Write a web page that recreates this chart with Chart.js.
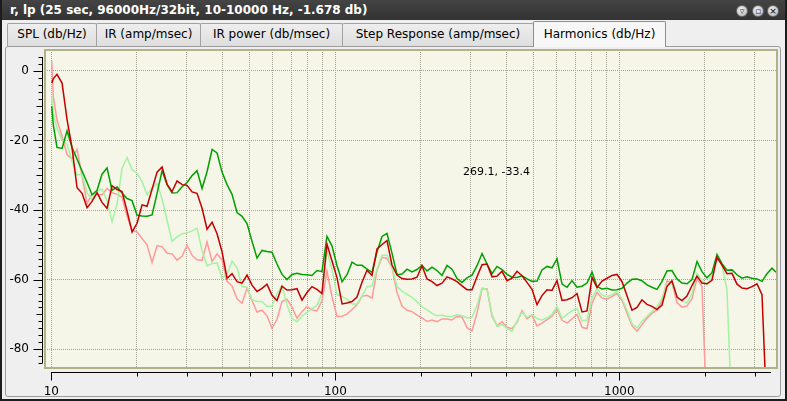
<!DOCTYPE html>
<html>
<head>
<meta charset="utf-8">
<script src="https://cdn.jsdelivr.net/npm/chart.js@4.4.1/dist/chart.umd.min.js"></script>
<style>
  html, body { margin: 0; padding: 0; }
  body {
    width: 787px; height: 401px; position: relative; overflow: hidden;
    background: #efefef; font-family: "DejaVu Sans", sans-serif; font-size: 12px; color: #000;
  }
  .frame { position: absolute; left: 0; top: 0; width: 787px; height: 401px; box-sizing: border-box;
    border: 2px solid #1c1c1c; border-top: none; }
  .titlebar { position: absolute; left: 0; top: 0; width: 787px; height: 20px;
    background: linear-gradient(#444, #333); color: #fff; font-weight: bold;
    line-height: 20px; padding-left: 10px; box-sizing: border-box; white-space: nowrap; }
  .btn { position: absolute; top: 5px; width: 12px; height: 12px; border-radius: 50%;
    background: radial-gradient(circle at 40% 35%, #f2f2f2, #b4b4b4); border: 1px solid #6a6a6a;
    box-sizing: border-box; font-size: 9px; line-height: 10px; text-align: center; color: #333; font-weight: bold; }
  .tab { position: absolute; top: 23px; height: 23px; box-sizing: border-box;
    border: 1px solid #a2a2a2; border-bottom: none; border-radius: 2px 2px 0 0;
    background: linear-gradient(#eeeeee, #dedede); text-align: center; line-height: 21px; white-space: nowrap; }
  .tab.active { top: 21px; height: 26px; background: #f7f7f7; border-color: #8e8e8e; z-index: 2; line-height: 24px; }
  .panel { position: absolute; left: 5px; top: 46px; width: 776px; height: 351px; box-sizing: border-box;
    border: 1px solid #9c9c9c; border-radius: 3px; background: #efefef; }
  #harmonics { position: absolute; left: 6px; top: 47px; }
</style>
</head>
<body>
<div class="titlebar">r, lp (25 sec, 96000Hz/32bit, 10-10000 Hz, -1.678 db)</div>
<div class="btn" style="left:736px">&#9663;</div>
<div class="btn" style="left:752px">&#9643;</div>
<div class="btn" style="left:767px">&#215;</div>
<div class="panel"></div>
<div class="tab" style="left:7px;width:90px">SPL (db/Hz)</div>
<div class="tab" style="left:96px;width:105px">IR (amp/msec)</div>
<div class="tab" style="left:200px;width:143px">IR power (db/msec)</div>
<div class="tab" style="left:342px;width:192px">Step Response (amp/msec)</div>
<div class="tab active" style="left:533px;width:133px">Harmonics (db/Hz)</div>
<canvas id="harmonics" width="773" height="348"></canvas>
<div class="frame"></div>
<script>
// frequencies (Hz) the four curves are read at
const freqHz = [10.03, 10.16, 10.47, 10.91, 11.36, 11.83, 12.32, 12.83, 13.36, 13.91,
  14.49, 15.08, 15.71, 16.36, 17.04, 17.74, 18.48, 19.24, 20.04, 20.87,
  21.73, 22.63, 23.57, 24.54, 25.56, 26.61, 27.72, 28.86, 30.06, 31.30,
  32.59, 33.94, 35.34, 36.81, 38.33, 39.91, 41.56, 43.28, 45.07, 46.93,
  48.87, 50.89, 52.99, 55.18, 57.46, 59.84, 62.31, 64.89, 67.57, 70.36,
  73.28, 76.31, 79.45, 82.74, 86.16, 89.73, 93.43, 97.3, 101.4, 105.6,
  109.9, 114.5, 119.2, 124.2, 129.3, 134.6, 140.2, 146.0, 152.0, 158.3,
  164.9, 171.7, 178.8, 186.2, 193.9, 201.9, 210.3, 219.0, 228.0, 237.5,
  247.3, 257.5, 268.2, 279.3, 290.8, 302.9, 315.4, 328.5, 342.0, 356.2,
  370.9, 386.3, 402.3, 418.8, 436.2, 454.2, 473.0, 492.6, 512.9, 534.1,
  556.3, 579.3, 603.2, 628.3, 654.3, 681.3, 709.5, 738.9, 769.4, 801.3,
  834.4, 868.9, 904.9, 942.3, 981.1, 1022, 1064, 1108, 1154, 1201,
  1251, 1303, 1357, 1413, 1471, 1532, 1596, 1662, 1730, 1802,
  1877, 1954, 2035, 2119, 2207, 2298, 2393, 2493, 2596, 2703,
  2815, 2931, 3052, 3179, 3311, 3447, 3563];

// dB values, null where the curve has ended
const darkRed = [-3.5, -2.3, -1.0, -3.5, -14, -22.2, -33.6, -35.2, -39.3, -37.5,
  -35, -37.8, -39.5, -33, -34.1, -34.7, -40.3, -46.3, -43.8, -38.5,
  -38.9, -34, -29.1, -27.6, -32.6, -34.7, -31.6, -32.7, -32.9, -34.8,
  -35.2, -39.5, -45.5, -43.5, -46.8, -52, -59.6, -58.3, -60.6, -61,
  -58.7, -61.6, -63.4, -62.5, -61.3, -64.5, -66, -61.9, -63, -62.9,
  -62.6, -65.9, -63.7, -62, -62.8, -64, -49.8, -54.6, -59.5, -67,
  -66.7, -66.3, -65, -60.7, -57.3, -58.8, -51.2, -49.9, -48.8, -55.8,
  -58.7, -59.7, -59.9, -59.8, -59.3, -56, -59.8, -60.6, -61.7, -61,
  -59.2, -59.8, -60.6, -61.8, -62.9, -62.9, -59.2, -55.7, -55.5, -59.2,
  -59, -57.6, -60.3, -59.6, -57.6, -58.9, -60.8, -62.8, -67.2, -64.6,
  -62.9, -63.1, -60.3, -66, -65.8, -65.2, -64, -69.3, -69, -59.4,
  -62.3, -60.4, -59.6, -58.8, -58.5, -60.6, -64.6, -68.8, -68, -65.8,
  -67.1, -67.7, -68.6, -67.3, -62, -60.3, -65, -66, -64.7, -61.7,
  -59, -61, -61.2, -60.2, -53.6, -55.8, -58.3, -58.2, -61.3, -62.4,
  -62.6, -62, -61.2, -64.3, -100, null, null];

const green = [-10.2, -15.5, -22, -22.3, -17.2, -22, -25.4, -28.8, -32.1, -35.6,
  -34.3, -29.7, -27.9, -34.3, -33.4, -35.1, -36.7, -37.3, -41.5, -41.7,
  -41.8, -41.4, -35.2, -28.7, -32.7, -35.1, -35, -33.3, -32.1, -30.1,
  -28.7, -33.8, -29, -22.6, -23.6, -29.1, -32.7, -35.5, -40.7, -41.8,
  -43.9, -49, -53.8, -51.6, -51.9, -52.1, -55.5, -58.5, -60, -58.5,
  -58.2, -58.5, -58.6, -58.8, -57.4, -57.7, -47.6, -50.3, -56, -60.6,
  -58.6, -55, -55.9, -55.9, -57, -57.9, -52, -47.6, -46.7, -52.4,
  -58.6, -58.4, -57, -57.8, -57.1, -55.9, -57.5, -56.4, -57.4, -58.8,
  -55.9, -57, -59.7, -60.8, -59.5, -58.7, -56, -52.5, -55.5, -58.3,
  -56.2, -57.1, -58.5, -59.3, -59.4, -58.9, -59.8, -60.5, -60.4, -57.2,
  -56.2, -56.6, -54, -61.3, -62.2, -60.3, -62.2, -61.9, -61, -57.8,
  -62, -62.7, -62.5, -63, -62.9, -62.5, -61, -59.9, -59.8, -60.3,
  -61.5, -62.2, -62.8, -60.5, -57.5, -57.4, -59.8, -61, -61.2, -60,
  -54.8, -57.7, -59.5, -58, -52.8, -55.4, -57.3, -57.2, -58.6, -59.6,
  -59.2, -59.6, -59.8, -60.5, -58.3, -56.7, -57.9];

const lightRed = [2.8, -7.3, -14.2, -18.8, -24.1, -25.3, -22.6, -30.2, -38.1, -35.4,
  -35.6, -35.6, -33.8, -35, -35.5, -36.3, -41.8, -45.8, -46.3, -48.2,
  -50, -55.1, -50.3, -50.5, -52.4, -52.6, -54.4, -53.3, -50.1, -53,
  -54.3, -54.5, -49.2, -54.8, -52.6, -54.4, -60.5, -61.8, -65.5, -66.8,
  -62.5, -66, -69.3, -68.8, -70.4, -74, -71.4, -66.3, -65.6, -67.9,
  -71.1, -69.2, -67.7, -68.7, -69, -66.1, -57.6, -64.9, -70.6, -70.5,
  -69.9, -68.6, -67.2, -64.8, -64.5, -65.3, -57.3, -53.6, -53.9, -56.5,
  -63.8, -67.6, -68.8, -69.2, -70.2, -71, -72, -71.6, -72.1, -71.3,
  -71.3, -71.6, -70.6, -70.7, -73.8, -74.7, -69.6, -62.6, -62.6, -70.5,
  -73.2, -72.1, -73.7, -74.1, -72.3, -68.9, -71.2, -70.2, -73.3, -72.5,
  -71.5, -70.5, -68.6, -71.7, -72.5, -71.3, -70, -73.7, -74.1, -66.8,
  -63.7, -65.3, -65.6, -64.8, -64, -66, -69.6, -73.3, -74.8, -73,
  -71.1, -69.7, -68.7, -66, -60.4, -60.8, -66.6, -67.9, -67.6, -65.5,
  -59.6, -62, -100, null, null, null, null, null, null, null,
  null, null, null, null, null, null, null];

const lightGreen = [-7.3, -12.1, -16.5, -19.9, -21.1, -26, -29.9, -29.7, -35, -37,
  -34.4, -34, -37.3, -43.4, -38.3, -28, -24.9, -28.4, -29.4, -31.8,
  -35.6, -33.7, -32.4, -36.8, -43, -49, -47.7, -46.8, -46.6, -46,
  -45.2, -51.7, -56, -55.4, -55.2, -59.6, -58.4, -54.7, -56.6, -62,
  -62.2, -65.7, -66.3, -66.3, -67.7, -67.6, -64.1, -61.7, -67.2, -71.2,
  -72.1, -70.5, -69.4, -68.3, -67.4, -63.9, -51.7, -57, -64.3, -64.9,
  -65.6, -67, -67, -64.7, -62, -61.8, -57, -53, -53, -56.3,
  -62, -63.3, -64.2, -65.1, -66.4, -67.8, -68.7, -69.7, -70.4, -70.2,
  -70.6, -70.6, -70.1, -70.4, -71, -70.8, -67.4, -62.4, -62.8, -70,
  -73.4, -72.9, -74, -74.8, -71.9, -69.4, -70.8, -70.1, -71.2, -71.6,
  -71, -70, -67.6, -71.1, -70, -69, -68.3, -71.8, -71.7, -65.3,
  -62.7, -64.4, -64.9, -64.3, -63.5, -65.5, -68.8, -72.7, -73.9, -72,
  -70.6, -69.2, -67.8, -65.5, -61.2, -61.1, -65.1, -66.1, -66.7, -64,
  -58.3, -60.2, -61.5, -58.9, -53.9, -55.8, -63, -100, null, null,
  null, null, null, null, null, null, null];

const xGridTicks = [10, 20, 30, 40, 50, 60, 70, 80, 90, 100, 200, 300, 400, 500, 600, 700, 800, 900, 1000, 2000, 3000];
const xTickLabels = [10, 100, 1000];
const yTickLabels = [0, -20, -40, -60, -80];
const cursorText = '269.1, -33.4';

const FONT = '"DejaVu Sans", sans-serif';

function toPoints(values) {
  return freqHz
    .map((f, i) => ({ x: f, y: values[i] }))
    .filter((p) => p.y !== null);
}

const plotFrame = {
  id: 'plotFrame',
  beforeDraw(chart) {
    const { ctx, chartArea: a } = chart;
    ctx.save();
    ctx.fillStyle = '#f5f5e8';
    ctx.fillRect(a.left, a.top, a.right - a.left, a.bottom - a.top);
    ctx.restore();
  },
  afterDatasetsDraw(chart) {
    const { ctx, chartArea: a } = chart;
    ctx.save();
    ctx.strokeStyle = '#b2b28a';
    ctx.lineWidth = 2;
    ctx.strokeRect(a.left, a.top, a.right - a.left, a.bottom - a.top);
    ctx.fillStyle = '#000';
    ctx.font = '11px ' + FONT;
    ctx.textBaseline = 'middle';
    ctx.fillText(cursorText, a.left + 418, a.top + 122);
    ctx.restore();
  },
  afterDraw(chart) {
    const { ctx, chartArea: a, scales } = chart;
    const xs = scales.x;
    const ys = scales.y;
    ctx.save();
    ctx.strokeStyle = '#000';
    ctx.lineWidth = 1;
    ctx.beginPath();
    // left axis, sits just outside the canvas frame
    const ax = Math.round(a.left) - 2.5;
    ctx.moveTo(ax, ys.getPixelForValue(4));
    ctx.lineTo(ax, ys.getPixelForValue(-84));
    for (let v = 4; v >= -84; v -= 2) {
      const py = Math.round(ys.getPixelForValue(v)) + 0.5;
      const len = v % 20 === 0 ? 9 : v % 10 === 0 ? 6 : 4;
      ctx.moveTo(ax, py);
      ctx.lineTo(ax - len, py);
    }
    // bottom axis
    const ay = Math.round(a.bottom) + 4.5;
    ctx.moveTo(Math.round(xs.getPixelForValue(10)), ay);
    ctx.lineTo(xs.getPixelForValue(3420), ay);
    xGridTicks.forEach((v) => {
      const px = Math.round(xs.getPixelForValue(v)) + 0.5;
      const len = xTickLabels.includes(v) ? 8 : 4;
      ctx.moveTo(px, ay);
      ctx.lineTo(px, ay + len);
    });
    ctx.stroke();
    ctx.restore();
  },
};

function renderHarmonics() {
  const ctx = document.getElementById('harmonics');

  new Chart(ctx, {
    type: 'line',
    data: {
      datasets: [
        { data: toPoints(darkRed), borderColor: '#c40000' },
        { data: toPoints(green), borderColor: '#00a000' },
        { data: toPoints(lightGreen), borderColor: '#a2f4a2' },
        { data: toPoints(lightRed), borderColor: '#ff9a9a' },
      ],
    },
    options: {
      responsive: false,
      animation: false,
      devicePixelRatio: 1,
      layout: { padding: { left: 0, right: 2, top: 3, bottom: 0 } },
      elements: {
        point: { radius: 0 },
        line: { tension: 0, borderWidth: 1.5, fill: false },
      },
      plugins: {
        legend: { display: false },
        tooltip: { enabled: false },
      },
      scales: {
        x: {
          type: 'logarithmic',
          min: 9.5,
          max: 3590,
          afterBuildTicks: (scale) => {
            scale.ticks = xGridTicks.map((v) => ({ value: v }));
          },
          afterFit: (scale) => {
            scale.height = 27;
            scale.paddingLeft = 0;
            scale.paddingRight = 0;
          },
          grid: { color: '#a3a392', lineWidth: 1, drawTicks: false },
          border: { display: false, dash: [1, 1] },
          ticks: {
            autoSkip: false,
            maxRotation: 0,
            padding: 17,
            color: '#000',
            font: { family: FONT, size: 12 },
            callback: (value) => (xTickLabels.includes(value) ? String(value) : ''),
          },
        },
        y: {
          min: -85.4,
          max: 6,
          afterBuildTicks: (scale) => {
            scale.ticks = yTickLabels.map((v) => ({ value: v }));
          },
          afterFit: (scale) => {
            scale.width = 39;
            scale.paddingTop = 0;
            scale.paddingBottom = 0;
          },
          grid: { color: '#a3a392', lineWidth: 1, drawTicks: false },
          border: { display: false, dash: [1, 1] },
          ticks: {
            padding: 16,
            color: '#000',
            font: { family: FONT, size: 12 },
            callback: (value) => String(value),
          },
        },
      },
    },
    plugins: [plotFrame],
  });
}

document.addEventListener('DOMContentLoaded', renderHarmonics);
</script>
</body>
</html>
